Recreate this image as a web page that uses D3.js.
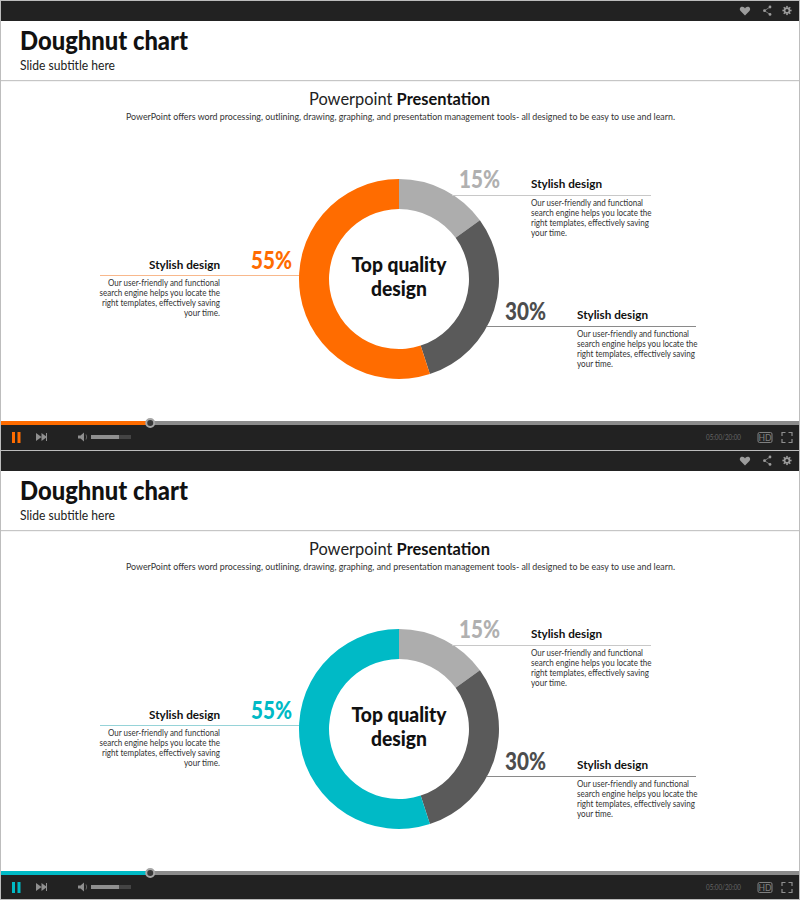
<!DOCTYPE html>
<html>
<head>
<meta charset="utf-8">
<script src="https://cdn.jsdelivr.net/npm/d3@7"></script>
<style>
  html, body { margin: 0; padding: 0; background: #fff; }
  svg { display: block; }
  text { font-family: Lato, "Noto Sans", sans-serif; }
</style>
</head>
<body>
<svg id="chart" width="800" height="900"></svg>
<script>
var categories = ["Top", "Middle", "Main"];
var shares = [15, 30, 55];
var shareLabels = ["15%", "30%", "55%"];
var calloutTitles = ["Stylish design", "Stylish design", "Stylish design"];
var calloutBody = [
  "Our user-friendly  and functional",
  "search engine helps you locate the",
  "right templates, effectively saving",
  "your time."
];
var slideTitle = "Doughnut chart";
var slideSubtitle = "Slide subtitle here";
var heading = ["Powerpoint ", "Presentation"];
var intro = "PowerPoint offers word processing, outlining, drawing, graphing, and presentation management tools- all designed to be easy to use and learn.";
var centerLines = ["Top quality", "design"];
var timeLabel = "05:00/20:00";
var played = 0.187;
var volume = 0.7;
var accents = ["#ff6c00", "#00bac6"];
var accentLines = ["#f8b88c", "#96d3d8"];

var greys = ["#adadad", "#5a5a5a"];
var labelGreys = ["#b0b0b0", "#4d4d4d"];
var dark = "#222222";

// where each callout sits, same order as the shares
var calloutPos = [
  { pctX: 500, pctY: 188, lineFrom: 452, lineTo: 651, lineY: 195, textX: 531, titleY: 188, anchor: "start" },
  { pctX: 546, pctY: 320, lineFrom: 487, lineTo: 696, lineY: 326, textX: 577, titleY: 319, anchor: "start" },
  { pctX: 292, pctY: 269, lineFrom: 100, lineTo: 299, lineY: 275, textX: 220, titleY: 269, anchor: "end" }
];
// Titillium isn't installed, so squeeze Lato to the widths in the picture
var bodyWidths = [112, 120.5, 118, 36];
var centerWidths = [95, 56];

var svg = d3.select("#chart");

var pie = d3.pie().sort(null).value(function (d) { return d; });
var arc = d3.arc().innerRadius(70).outerRadius(100);
var progress = d3.scaleLinear().domain([0, 1]).range([1, 799]);
var volumeScale = d3.scaleLinear().domain([0, 1]).range([91, 131]);

function fit(sel, w) {
  return sel.attr("textLength", w).attr("lengthAdjust", "spacingAndGlyphs");
}

function drawTopBar(g) {
  g.append("rect").attr("x", 0).attr("y", 0).attr("width", 800).attr("height", 21).attr("fill", dark);
  g.append("rect").attr("x", 0).attr("y", 0).attr("width", 800).attr("height", 1).attr("fill", "#bdbdbd");

  // heart
  g.append("path")
    .attr("d", "M745 15.5 L740.6 11 C738.8 8.8 740.5 6.6 742.5 6.8 C743.6 6.9 744.5 7.6 745 8.5 C745.5 7.6 746.4 6.9 747.5 6.8 C749.5 6.6 751.2 8.8 749.4 11 Z")
    .attr("fill", "#9c9c9c");
  // share
  g.append("path")
    .attr("d", "M770 7 L764.5 10.7 L770 14.4")
    .attr("fill", "none").attr("stroke", "#8a8a8a").attr("stroke-width", 0.8);
  [[770, 7], [764.5, 10.7], [770, 14.4]].forEach(function (p) {
    g.append("circle").attr("cx", p[0]).attr("cy", p[1]).attr("r", 1.4).attr("fill", "#9c9c9c");
  });
  // gear
  g.append("circle").attr("cx", 787).attr("cy", 10.5).attr("r", 2.4)
    .attr("fill", "none").attr("stroke", "#9c9c9c").attr("stroke-width", 1.6);
  d3.range(8).forEach(function (i) {
    g.append("rect").attr("x", 786.2).attr("y", 5.9).attr("width", 1.6).attr("height", 1.8)
      .attr("fill", "#9c9c9c")
      .attr("transform", "rotate(" + (i * 45) + " 787 10.5)");
  });
}

function drawControls(g, accent) {
  g.append("rect").attr("x", 0).attr("y", 421).attr("width", 800).attr("height", 29).attr("fill", dark);
  g.append("rect").attr("x", progress(0)).attr("y", 421).attr("width", 798).attr("height", 4).attr("fill", "#8c8c8c");
  g.append("rect").attr("x", progress(0)).attr("y", 421)
    .attr("width", progress(played) - progress(0)).attr("height", 4).attr("fill", accent);
  g.append("circle").attr("cx", progress(played)).attr("cy", 423).attr("r", 4)
    .attr("fill", "#3a3a3a").attr("stroke", "#a6a6a6").attr("stroke-width", 2);

  // pause
  g.append("rect").attr("x", 12).attr("y", 432).attr("width", 3).attr("height", 11).attr("fill", accent);
  g.append("rect").attr("x", 17.5).attr("y", 432).attr("width", 3).attr("height", 11).attr("fill", accent);
  // skip
  g.append("path").attr("d", "M36 433 L41.5 437 L36 441 Z M41.5 433 L47 437 L41.5 441 Z").attr("fill", "#8f8f8f");
  g.append("rect").attr("x", 46).attr("y", 433).attr("width", 1).attr("height", 8).attr("fill", "#8f8f8f");
  // speaker
  g.append("path").attr("d", "M78 435.5 L80.5 435.5 L84 432.5 L84 441.5 L80.5 438.5 L78 438.5 Z").attr("fill", "#8f8f8f");
  g.append("path").attr("d", "M86 434.5 Q87.4 437 86 439.5").attr("fill", "none").attr("stroke", "#777").attr("stroke-width", 0.8);
  // volume
  g.append("rect").attr("x", volumeScale(0)).attr("y", 435).attr("width", volumeScale(1) - volumeScale(0)).attr("height", 4).attr("fill", "#444");
  g.append("rect").attr("x", volumeScale(0)).attr("y", 435).attr("width", volumeScale(volume) - volumeScale(0)).attr("height", 4).attr("fill", "#8f8f8f");

  fit(g.append("text").attr("x", 706).attr("y", 439.5)
    .attr("font-size", 7.5).attr("fill", "#666").text(timeLabel), 35);

  // HD badge
  g.append("rect").attr("x", 758).attr("y", 432.5).attr("width", 14).attr("height", 10).attr("rx", 1.5)
    .attr("fill", "none").attr("stroke", "#808080").attr("stroke-width", 1);
  g.append("text").attr("x", 765).attr("y", 440.5).attr("text-anchor", "middle")
    .attr("font-size", 8.5).attr("fill", "#808080").text("HD");
  // fullscreen
  g.append("path")
    .attr("d", "M782 436 L782 432.5 L785.5 432.5 M788.5 432.5 L792 432.5 L792 436 M792 439 L792 442.5 L788.5 442.5 M785.5 442.5 L782 442.5 L782 439")
    .attr("fill", "none").attr("stroke", "#8f8f8f").attr("stroke-width", 1.2);
}

function drawPanel(g, accent, accentLine) {
  var colors = [greys[0], greys[1], accent];
  var pctColors = [labelGreys[0], labelGreys[1], accent];
  var lineColors = ["#c8c8c8", "#8a8a8a", accentLine];

  drawTopBar(g);

  fit(g.append("text").attr("x", 20).attr("y", 50)
    .attr("font-size", 26).attr("font-weight", 900).attr("fill", "#111").text(slideTitle), 168);
  fit(g.append("text").attr("x", 20).attr("y", 70)
    .attr("font-size", 13).attr("fill", "#222").text(slideSubtitle), 95);
  g.append("rect").attr("x", 0).attr("y", 80).attr("width", 800).attr("height", 1.2).attr("fill", "#c6c6c6");

  var head = g.append("text").attr("x", 309).attr("y", 105)
    .attr("font-size", 17).attr("fill", "#222");
  head.append("tspan").text(heading[0]);
  head.append("tspan").attr("font-weight", 700).attr("fill", "#111").text(heading[1]);
  fit(head, 181);

  fit(g.append("text").attr("x", 126).attr("y", 120)
    .attr("font-size", 9.6).attr("fill", "#333").text(intro), 549);

  var ring = g.append("g").attr("transform", "translate(399,279)");
  ring.selectAll("path").data(pie(shares)).enter().append("path")
    .attr("d", arc)
    .attr("fill", function (d, i) { return colors[i]; })
    .attr("data-category", function (d, i) { return categories[i]; });

  ring.selectAll("text").data(centerLines).enter().append("text")
    .attr("text-anchor", "middle")
    .attr("y", function (d, i) { return -7 + i * 24; })
    .attr("font-size", 20).attr("font-weight", 900).attr("fill", "#111")
    .attr("textLength", function (d, i) { return centerWidths[i]; })
    .attr("lengthAdjust", "spacingAndGlyphs")
    .text(function (d) { return d; });

  calloutPos.forEach(function (p, i) {
    var c = g.append("g");
    c.append("line")
      .attr("x1", p.lineFrom).attr("x2", p.lineTo).attr("y1", p.lineY + 0.5).attr("y2", p.lineY + 0.5)
      .attr("stroke", lineColors[i]).attr("stroke-width", 1);
    fit(c.append("text").attr("x", p.pctX).attr("y", p.pctY).attr("text-anchor", "end")
      .attr("font-size", 25).attr("font-weight", 900).attr("fill", pctColors[i]).text(shareLabels[i]), 41);
    fit(c.append("text").attr("x", p.textX).attr("y", p.titleY).attr("text-anchor", p.anchor)
      .attr("font-size", 11.5).attr("font-weight", 700).attr("fill", "#111").text(calloutTitles[i]), 71);
    c.selectAll(".body").data(calloutBody).enter().append("text")
      .attr("class", "body")
      .attr("x", p.textX)
      .attr("y", function (d, j) { return p.lineY + 10.5 + j * 10.3; })
      .attr("text-anchor", p.anchor)
      .attr("font-size", 9).attr("fill", "#333")
      .attr("textLength", function (d, j) { return bodyWidths[j]; })
      .attr("lengthAdjust", "spacingAndGlyphs")
      .text(function (d) { return d; });
  });

  drawControls(g, accent);
}

accents.forEach(function (accent, i) {
  drawPanel(svg.append("g").attr("transform", "translate(0," + (i * 450) + ")"), accent, accentLines[i]);
});

svg.append("rect").attr("x", 0).attr("y", 0).attr("width", 1).attr("height", 900).attr("fill", "#bdbdbd");
svg.append("rect").attr("x", 799).attr("y", 0).attr("width", 1).attr("height", 900).attr("fill", "#bdbdbd");
svg.append("rect").attr("x", 0).attr("y", 899).attr("width", 800).attr("height", 1).attr("fill", "#bdbdbd");
</script>
</body>
</html>
